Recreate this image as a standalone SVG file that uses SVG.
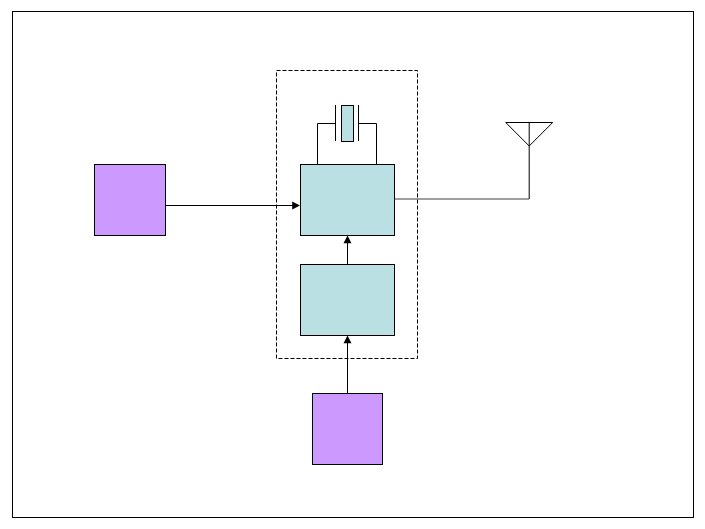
<svg xmlns="http://www.w3.org/2000/svg" width="705" height="529" viewBox="0 0 705 529">
<style>
.blue{fill:#bae0e3;stroke:#000;stroke-width:1}
.purple{fill:#cc99ff;stroke:#000;stroke-width:1}
.line{fill:none;stroke:#000;stroke-width:1}
.head{fill:#000;stroke:none}
</style>
<rect width="705" height="529" fill="#fff"/>
<rect id="frame" class="line" x="12.5" y="11.5" width="681" height="506"/>
<rect id="dashed-box" class="line" x="276.5" y="70.5" width="141" height="288" stroke-dasharray="4 2"/>
<g id="source-left"><rect class="purple" x="94.5" y="164.5" width="71" height="71"/></g>
<g id="source-bottom"><rect class="purple" x="312.5" y="393.5" width="70" height="71"/></g>
<g id="block-upper"><rect class="blue" x="300.5" y="164.5" width="94" height="71"/></g>
<g id="block-lower"><rect class="blue" x="300.5" y="264.5" width="94" height="71"/></g>
<g id="crystal">
<rect class="blue" x="341.5" y="105.5" width="12" height="36"/>
<path class="line" d="M335.5 105V141M358.5 105V141"/>
</g>
<g id="antenna">
<path class="line" d="M505.7 122.5H552.7L529.2 146L505.7 122.5ZM529.2 122.5V199"/>
</g>
<g id="connectors">
<path class="line" d="M317.5 164V123.5H335.5M376.5 164V123.5H358.5"/>
<path class="line" d="M165.5 205.5H293"/>
<path class="head" d="M292.2 201.5V209.5L300 205.5Z"/>
<path class="line" d="M347.5 264V242"/>
<path class="head" d="M343.5 243.2H351.5L347.5 235.5Z"/>
<path class="line" d="M347.5 393V342"/>
<path class="head" d="M343.5 343.2H351.5L347.5 335.5Z"/>
<path class="line" style="stroke:#404040" d="M394.5 199H529"/>
</g>
</svg>
